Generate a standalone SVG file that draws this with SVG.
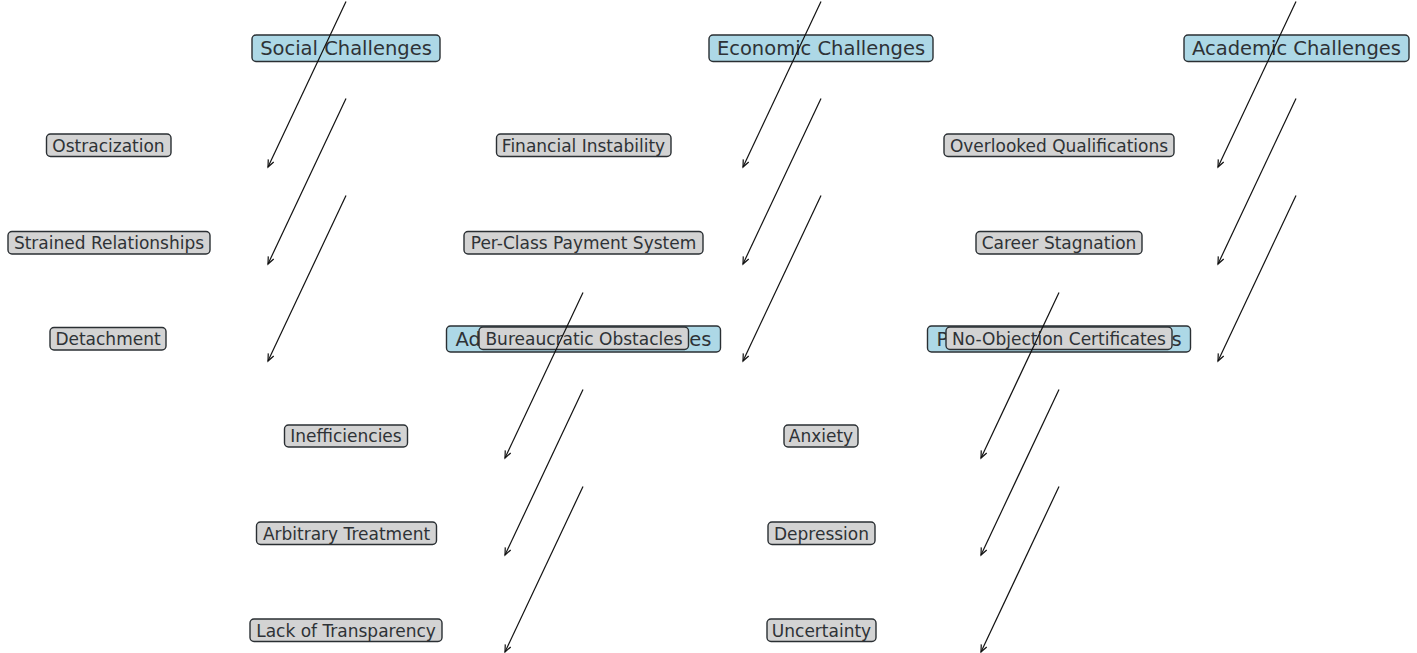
<svg xmlns="http://www.w3.org/2000/svg" width="1417" height="653" viewBox="0 0 1417 653">
<style>
text{font-family:"DejaVu Sans","Liberation Sans",sans-serif;fill:#2e3236;text-anchor:middle;dominant-baseline:central}
.h rect{fill:#add8e6;stroke:#2a2f33;stroke-width:1.4}
.h text{font-size:19.5px}
.s rect{fill:#d3d3d3;stroke:#2a2f33;stroke-width:1.4}
.s text{font-size:17px}
#connectors line{stroke:#111;stroke-width:1.2;marker-end:url(#ah)}
</style>
<defs>
<marker id="ah" markerUnits="userSpaceOnUse" markerWidth="12" markerHeight="12" viewBox="-10 -6 12 12" refX="0" refY="0" orient="auto">
<path d="M-7,-3 L0,0 L-7,3" fill="none" stroke="#111" stroke-width="1.2"/>
</marker>
</defs>
<rect width="1417" height="653" fill="#fff"/>
<!-- headers -->
<g id="social" class="h"><rect x="252" y="35" width="188" height="26.5" rx="4"/><text x="346" y="48.5">Social Challenges</text></g>
<g id="economic" class="h"><rect x="709" y="35" width="224" height="26.5" rx="4"/><text x="821" y="48.5">Economic Challenges</text></g>
<g id="academic" class="h"><rect x="1184" y="35" width="225" height="26.5" rx="4"/><text x="1296.5" y="48.5">Academic Challenges</text></g>
<g id="administrative" class="h"><rect x="446.5" y="326" width="274" height="26" rx="4"/><text x="583.5" y="339">Administrative Challenges</text></g>
<g id="psychological" class="h"><rect x="927.5" y="326" width="263" height="26" rx="4"/><text x="1059" y="339">Psychological Challenges</text></g>
<!-- sub items -->
<g id="ostracization" class="s"><rect x="46.5" y="134" width="124.5" height="22.5" rx="4"/><text x="108.5" y="145.5">Ostracization</text></g>
<g id="strained" class="s"><rect x="8" y="231.5" width="202" height="22.5" rx="4"/><text x="109" y="243">Strained Relationships</text></g>
<g id="detachment" class="s"><rect x="50" y="327.5" width="116" height="22.5" rx="4"/><text x="108" y="339">Detachment</text></g>
<g id="financial" class="s"><rect x="496.5" y="134" width="174.5" height="22.5" rx="4"/><text x="583.5" y="145.5">Financial Instability</text></g>
<g id="perclass" class="s"><rect x="464" y="231.5" width="239" height="22.5" rx="4"/><text x="583.5" y="243">Per-Class Payment System</text></g>
<g id="bureaucratic" class="s"><rect x="479" y="327" width="209.5" height="22.5" rx="4"/><text x="584" y="338.5">Bureaucratic Obstacles</text></g>
<g id="overlooked" class="s"><rect x="944" y="134" width="230" height="22.5" rx="4"/><text x="1059" y="145.5">Overlooked Qualifications</text></g>
<g id="career" class="s"><rect x="976" y="231.5" width="166" height="22.5" rx="4"/><text x="1059" y="243">Career Stagnation</text></g>
<g id="noobjection" class="s"><rect x="946" y="327" width="226" height="22.5" rx="4"/><text x="1059" y="338.5">No-Objection Certificates</text></g>
<g id="inefficiencies" class="s"><rect x="284.5" y="425" width="123" height="22" rx="4"/><text x="346" y="436">Inefficiencies</text></g>
<g id="arbitrary" class="s"><rect x="256.5" y="522" width="180" height="22.5" rx="4"/><text x="346.5" y="533.5">Arbitrary Treatment</text></g>
<g id="transparency" class="s"><rect x="250" y="619" width="192" height="22.5" rx="4"/><text x="346" y="630.5">Lack of Transparency</text></g>
<g id="anxiety" class="s"><rect x="784" y="425" width="74" height="22" rx="4"/><text x="821" y="436">Anxiety</text></g>
<g id="depression" class="s"><rect x="768" y="522" width="107" height="22.5" rx="4"/><text x="821.5" y="533.5">Depression</text></g>
<g id="uncertainty" class="s"><rect x="767" y="619" width="109" height="22.5" rx="4"/><text x="821.5" y="630.5">Uncertainty</text></g>
<!-- connectors -->
<g id="connectors">
<line x1="346" y1="1.5" x2="268" y2="167"/>
<line x1="346" y1="98.5" x2="268" y2="264"/>
<line x1="346" y1="195.5" x2="268" y2="361"/>
<line x1="821" y1="1.5" x2="743" y2="167"/>
<line x1="821" y1="98.5" x2="743" y2="264"/>
<line x1="821" y1="195.5" x2="743" y2="361"/>
<line x1="1296" y1="1.5" x2="1218" y2="167"/>
<line x1="1296" y1="98.5" x2="1218" y2="264"/>
<line x1="1296" y1="195.5" x2="1218" y2="361"/>
<line x1="583" y1="292.5" x2="505" y2="458"/>
<line x1="583" y1="389.5" x2="505" y2="555"/>
<line x1="583" y1="486.5" x2="505" y2="652"/>
<line x1="1059" y1="292.5" x2="981" y2="458"/>
<line x1="1059" y1="389.5" x2="981" y2="555"/>
<line x1="1059" y1="486.5" x2="981" y2="652"/>
</g>
</svg>
